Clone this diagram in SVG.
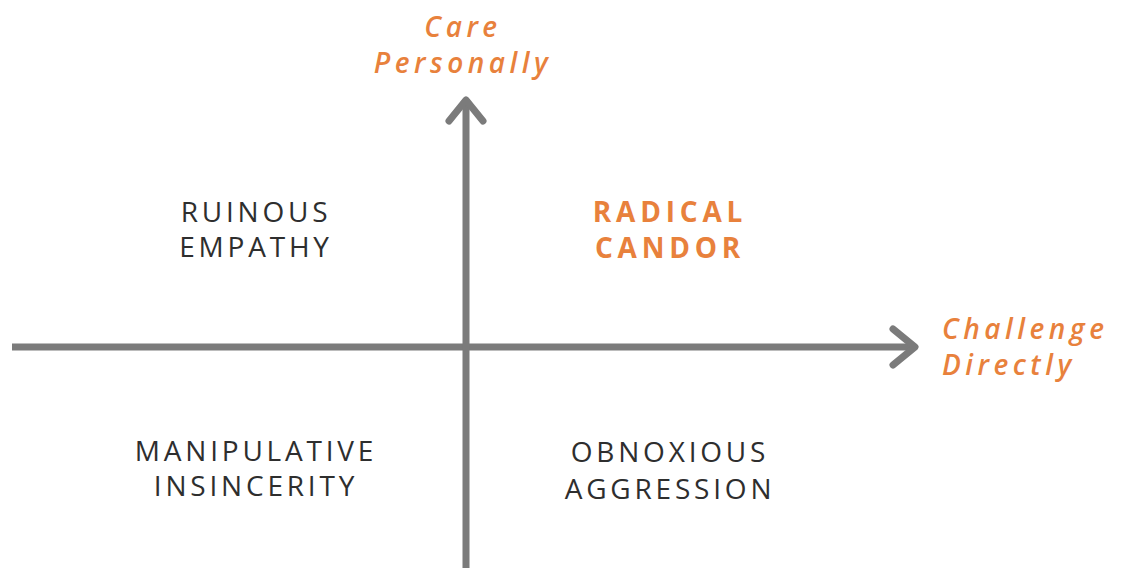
<svg xmlns="http://www.w3.org/2000/svg" width="1121" height="568" viewBox="0 0 1121 568">
  <style>
    .axis { stroke: #7b7b7b; stroke-width: 7; fill: none; }
    .head { stroke: #7b7b7b; stroke-width: 7; fill: none; stroke-linecap: round; stroke-linejoin: round; }
    .axis-label { font-family: "Open Sans", "Noto Sans", sans-serif; font-style: italic; font-weight: 600; font-size: 28px; fill: #e8813c; letter-spacing: 4.5px; }
    .quad { font-family: "Open Sans", "Noto Sans", sans-serif; font-size: 28px; fill: #2e2e2e; letter-spacing: 3.8px; text-anchor: middle; }
    .quad-hi { font-family: "Open Sans", "Noto Sans", sans-serif; font-weight: 700; font-size: 28px; fill: #e8813c; letter-spacing: 4.8px; text-anchor: middle; }
  </style>
  <rect width="1121" height="568" fill="#ffffff"/>

  <!-- axes -->
  <g id="connectors">
    <line class="axis" x1="12" y1="347" x2="914" y2="347"/>
    <polyline class="head" points="893,329 915,347 893,365"/>
    <line class="axis" x1="466" y1="568" x2="466" y2="99"/>
    <polyline class="head" points="449,121 466,100 483,121"/>
  </g>

  <g id="axis-y-label">
    <text class="axis-label" x="463" y="37" text-anchor="middle">Care</text>
    <text class="axis-label" x="463" y="73" text-anchor="middle">Personally</text>
  </g>
  <g id="axis-x-label">
    <text class="axis-label" x="942" y="339">Challenge</text>
    <text class="axis-label" x="942" y="375">Directly</text>
  </g>

  <g id="ruinous-empathy">
    <text class="quad" x="256" y="222">RUINOUS</text>
    <text class="quad" x="256" y="257">EMPATHY</text>
  </g>
  <g id="radical-candor">
    <text class="quad-hi" x="670" y="222">RADICAL</text>
    <text class="quad-hi" x="670" y="258">CANDOR</text>
  </g>
  <g id="manipulative-insincerity">
    <text class="quad" x="256" y="461">MANIPULATIVE</text>
    <text class="quad" x="256" y="496">INSINCERITY</text>
  </g>
  <g id="obnoxious-aggression">
    <text class="quad" x="670" y="462">OBNOXIOUS</text>
    <text class="quad" x="670" y="499">AGGRESSION</text>
  </g>
</svg>
